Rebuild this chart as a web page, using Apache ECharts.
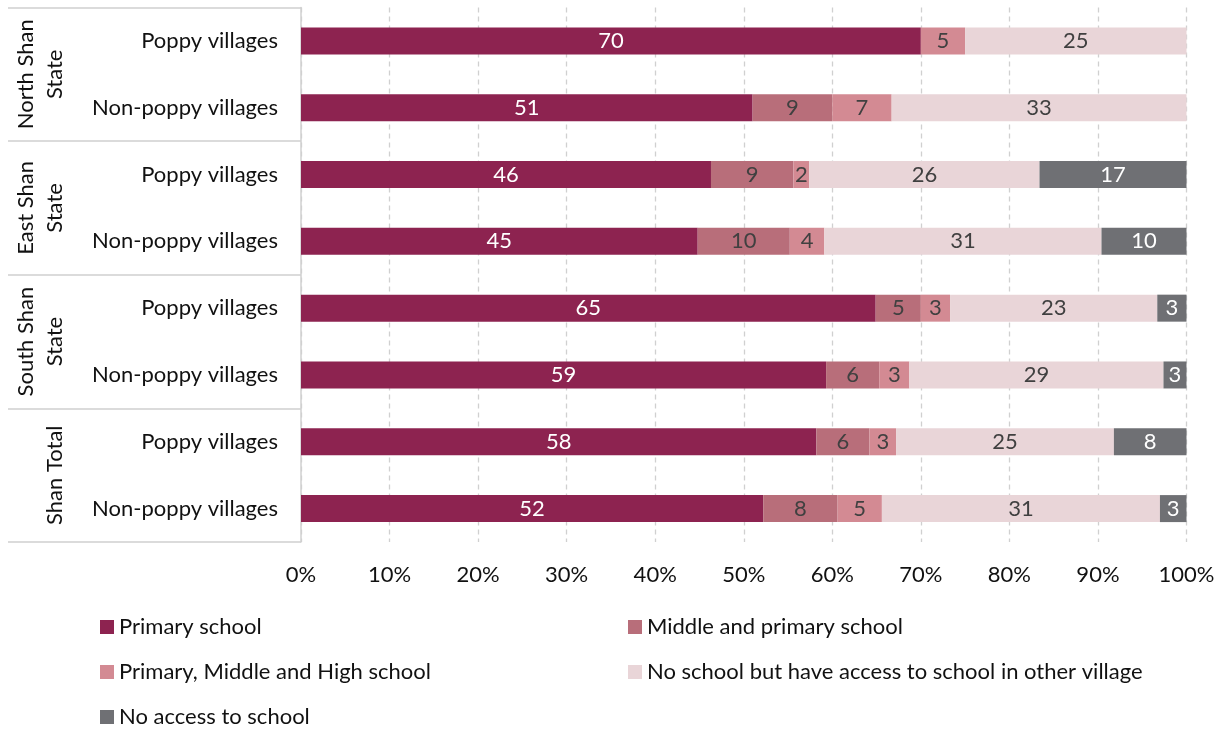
<!DOCTYPE html>
<html>
<head>
<meta charset="utf-8">
<script src="https://cdn.jsdelivr.net/npm/echarts@6/dist/echarts.min.js"></script>
<style>
html,body{margin:0;padding:0;background:#fff;}
#chart{width:1225px;height:729px;}
</style>
</head>
<body>
<div id="chart"></div>
<script>
// ---- data ----
const groups = ['North Shan\nState', 'East Shan\nState', 'South Shan\nState', 'Shan Total'];
const villageTypes = ['Poppy villages', 'Non-poppy villages'];
const seriesNames = [
  'Primary school',
  'Middle and primary school',
  'Primary, Middle and High school',
  'No school but have access to school in other village',
  'No access to school'
];
// order: North P, North NP, East P, East NP, South P, South NP, Total P, Total NP
const primarySchool      = [70.0, 51.0, 46.3, 44.8, 64.9, 59.3, 58.2, 52.2];
const middlePrimary      = [0,    9.0,  9.3,  10.4, 5.1,  6.0,  6.0,  8.4];
const primaryMiddleHigh  = [5.0,  6.7,  1.8,  3.9,  3.3,  3.4,  3.0,  5.0];
const noSchoolButAccess  = [25.0, 33.3, 26.0, 31.3, 23.4, 28.7, 24.6, 31.4];
const noAccess           = [0,    0,    16.6, 9.6,  3.3,  2.6,  8.2,  3.0];
const xTicks = [0, 10, 20, 30, 40, 50, 60, 70, 80, 90, 100];

// ---- build ----
const categories = [];
groups.forEach(g => villageTypes.forEach(v => categories.push(g + '|' + v)));
const values = [primarySchool, middlePrimary, primaryMiddleHigh, noSchoolButAccess, noAccess];
const colors = ['#8D2350', '#B86E7A', '#D38A93', '#E9D5D8', '#6F7074'];
const labelColors = ['#ffffff', '#404040', '#404040', '#404040', '#ffffff'];
const FONT = 'Lato';
const FS = 22;

const chart = echarts.init(document.getElementById('chart'), null, {renderer: 'canvas'});
const series = seriesNames.map((name, i) => ({
  name: name,
  type: 'bar',
  stack: 'total',
  yAxisIndex: 0,
  barWidth: 27,
  data: values[i],
  itemStyle: {color: colors[i]},
  emphasis: {disabled: true},
  label: {
    show: true,
    position: 'inside',
    color: labelColors[i],
    fontSize: FS,
    fontFamily: FONT,
    formatter: p => (p.value > 0 ? String(Math.round(p.value)) : '')
  }
}));

const legendText = {fontSize: FS, lineHeight: 22, color: '#111111', fontFamily: FONT};

chart.setOption({
  animation: false,
  textStyle: {fontFamily: FONT},
  grid: {left: 301, right: 38.5, top: 7.5, bottom: 187, containLabel: false, outerBoundsMode: 'none'},
  xAxis: {
    type: 'value',
    min: xTicks[0],
    max: xTicks[xTicks.length - 1],
    interval: 10,
    axisLine: {show: false},
    axisTick: {show: false},
    axisLabel: {
      formatter: v => v + '%',
      fontSize: FS,
      color: '#111111',
      margin: 22,
      fontFamily: FONT
    },
    splitLine: {show: true, lineStyle: {color: '#D0D0D0', width: 1.3, type: [5, 4]}}
  },
  yAxis: [
    {
      type: 'category',
      data: categories,
      inverse: true,
      position: 'left',
      axisLine: {show: true, lineStyle: {color: '#D0D0D0', width: 1.5}},
      axisTick: {show: false},
      splitLine: {show: false},
      axisLabel: {
        formatter: v => v.split('|')[1],
        fontSize: FS,
        color: '#111111',
        margin: 23,
        fontFamily: FONT
      }
    },
    {
      type: 'category',
      data: groups,
      inverse: true,
      position: 'left',
      offset: 293,
      axisLine: {show: false},
      axisTick: {show: true, inside: true, length: 293, lineStyle: {color: '#D0D0D0', width: 1.5}},
      splitLine: {show: false},
      axisLabel: {
        show: true,
        inside: true,
        rotate: 90,
        margin: 61,
        align: 'center',
        verticalAlign: 'bottom',
        lineHeight: 29,
        fontSize: FS,
        color: '#111111',
        fontFamily: FONT,
        interval: 0
      }
    }
  ],
  legend: [
    {
      orient: 'vertical',
      left: 100,
      top: 616,
      width: 500,
      height: 160,
      padding: 0,
      itemWidth: 14,
      itemHeight: 14,
      itemGap: 23,
      icon: 'rect',
      selectedMode: false,
      data: [seriesNames[0], seriesNames[2], seriesNames[4]],
      textStyle: legendText
    },
    {
      orient: 'vertical',
      left: 628,
      top: 616,
      width: 580,
      height: 160,
      padding: 0,
      itemWidth: 14,
      itemHeight: 14,
      itemGap: 23,
      icon: 'rect',
      selectedMode: false,
      data: [seriesNames[1], seriesNames[3]],
      textStyle: legendText
    }
  ],
  series: series
});
</script>
</body>
</html>
